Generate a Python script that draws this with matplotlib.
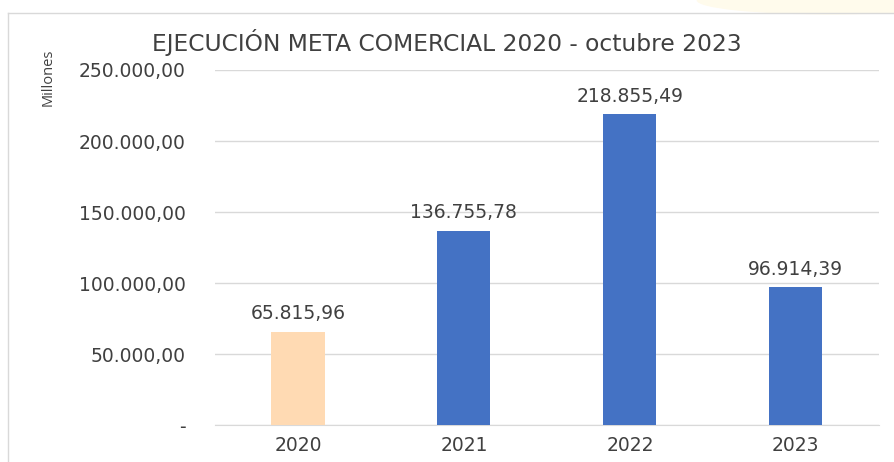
import matplotlib.pyplot as plt
from matplotlib.lines import Line2D
from matplotlib.patches import Ellipse
from matplotlib.ticker import FuncFormatter

years = ["2020", "2021", "2022", "2023"]
values = [65815.96, 136755.78, 218855.49, 96914.39]
bar_colors = ["#FFDAB3", "#4472C4", "#4472C4", "#4472C4"]
y_ticks = [0, 50000, 100000, 150000, 200000, 250000]


def es_fmt(v):
    if v == 0:
        return "-"
    s = f"{v:,.2f}"
    return s.replace(",", "X").replace(".", ",").replace("X", ".")


plt.rcParams["font.family"] = ["DejaVu Sans"]
text_color = "#404040"

fig = plt.figure(figsize=(8.94, 4.62), dpi=100)
ax = fig.add_axes([0.2405, 0.080, 0.7425, 0.7685])

x = range(len(years))
ax.bar(x, values, width=0.32, color=bar_colors, zorder=3)

for xi, v in zip(x, values):
    ax.annotate(es_fmt(v), (xi, v), xytext=(0, 6), textcoords="offset points",
                ha="center", va="bottom", fontsize=13.5, color=text_color)

ax.set_xlim(-0.5, len(years) - 0.5)
ax.set_ylim(0, 250000)
ax.set_yticks(y_ticks)
ax.yaxis.set_major_formatter(FuncFormatter(lambda v, p: es_fmt(v)))
ax.set_xticks(list(x))
ax.set_xticklabels(years)
ax.tick_params(axis="both", length=0, labelsize=13.5, labelcolor=text_color)
ax.tick_params(axis="y", pad=21)
ax.tick_params(axis="x", pad=8)
ax.grid(axis="y", color="#D9D9D9", linewidth=1, zorder=0)
for side in ["top", "right", "left"]:
    ax.spines[side].set_visible(False)
ax.spines["bottom"].set_color("#D9D9D9")

fig.text(0.5, 0.909, "EJECUCIÓN META COMERCIAL 2020 - octubre 2023",
         ha="center", va="center", fontsize=16.8, color=text_color)
fig.text(0.054, 0.895, "Millones", rotation=90, ha="center", va="top",
         fontsize=10.5, color=text_color, family="Open Sans")

# chart frame edges and faint highlight in the corner
fig.add_artist(Ellipse((0.93, 1.0), 0.30, 0.06, transform=fig.transFigure,
                       color="#FFFBEC", zorder=0))
fig.add_artist(Line2D([0.009, 1.0], [0.972, 0.972], transform=fig.transFigure,
                      color="#D9D9D9", linewidth=1))
fig.add_artist(Line2D([0.009, 0.009], [0.0, 0.972], transform=fig.transFigure,
                      color="#D9D9D9", linewidth=1))

fig.savefig("out.png", dpi=100)
